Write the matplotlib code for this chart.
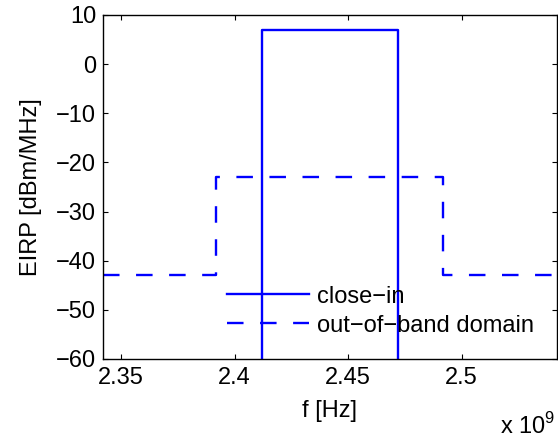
import numpy as np
import matplotlib.pyplot as plt

plt.rcParams['font.family'] = 'Liberation Sans'
plt.rcParams['font.size'] = 17
plt.rcParams['mathtext.fontset'] = 'custom'
plt.rcParams['mathtext.rm'] = 'Liberation Sans'

# close-in mask (Hz, dBm/MHz)
f_close = [2.412e9, 2.412e9, 2.472e9, 2.472e9]
eirp_close = [-80, 7, 7, -80]
# out-of-band domain mask
f_oob = [2.342e9, 2.392e9, 2.392e9, 2.492e9, 2.492e9, 2.542e9]
eirp_oob = [-43, -43, -23, -23, -43, -43]

xticks = [2.35e9, 2.40e9, 2.45e9, 2.50e9]
xlabels = ['2.35', '2.4', '2.45', '2.5']
yticks = [-60, -50, -40, -30, -20, -10, 0, 10]

fig = plt.figure(figsize=(5.58, 4.45), dpi=100)
ax = fig.add_axes([0.1846, 0.1933, 0.8134, 0.773])
ax.plot(f_close, eirp_close, color='#0000ff', lw=1.7, label='close\u2212in')
ax.plot(f_oob, eirp_oob, color='#0000ff', lw=1.7, dashes=(7, 7), label='out\u2212of\u2212band domain')
ax.set_xlim(2.342e9, 2.542e9)
ax.set_ylim(-60, 10)
ax.set_xticks(xticks)
ax.set_xticklabels(xlabels)
ax.set_yticks(yticks)
ax.tick_params(direction='in', top=True, right=True, length=3.5, width=0.8)
ax.tick_params(axis='x', pad=6)
ax.tick_params(axis='y', pad=5)
for s in ax.spines.values():
    s.set_linewidth(1.0)
ax.set_xlabel('f [Hz]', labelpad=8)
ax.set_ylabel('EIRP [dBm/MHz]', labelpad=10)
fig.text(0.995, 0.025, 'x 10$^{9}$', ha='right', va='baseline')
ax.legend(loc='center left', bbox_to_anchor=(0.4068, 0.301), bbox_transform=fig.transFigure,
          frameon=False, handlelength=3.47, handletextpad=0.34, labelspacing=0.3,
          borderpad=0, borderaxespad=0)
fig.savefig('out.png', dpi=100)
